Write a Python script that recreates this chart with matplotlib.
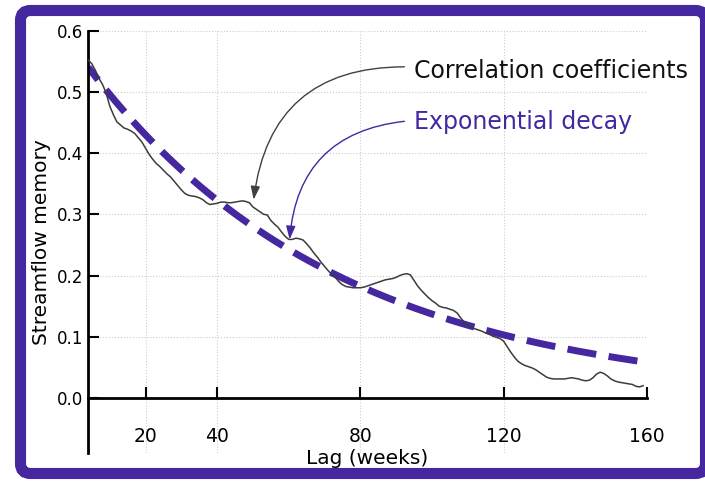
import numpy as np
import matplotlib
matplotlib.use("Agg")
import matplotlib.pyplot as plt
from matplotlib.patches import FancyBboxPatch

# Weekly lags and the lagged streamflow autocorrelation values
lags = np.arange(4, 160)
corr = [
    0.552, 0.546, 0.535, 0.522, 0.512, 0.498, 0.477, 0.463, 0.451, 0.446,   # 4-13
    0.441, 0.439, 0.436, 0.432, 0.425, 0.418, 0.408, 0.398, 0.390, 0.383,   # 14-23
    0.378, 0.372, 0.366, 0.361, 0.354, 0.347, 0.340, 0.334, 0.331, 0.330,   # 24-33
    0.329, 0.327, 0.324, 0.319, 0.316, 0.317, 0.318, 0.320, 0.320, 0.319,   # 34-43
    0.319, 0.320, 0.321, 0.322, 0.321, 0.319, 0.312, 0.308, 0.304, 0.300,   # 44-53
    0.299, 0.290, 0.284, 0.279, 0.271, 0.264, 0.259, 0.259, 0.261, 0.260,   # 54-63
    0.258, 0.252, 0.245, 0.237, 0.230, 0.222, 0.215, 0.208, 0.202, 0.197,   # 64-73
    0.190, 0.185, 0.182, 0.181, 0.180, 0.180, 0.180, 0.181, 0.183, 0.185,   # 74-83
    0.187, 0.189, 0.191, 0.193, 0.194, 0.195, 0.197, 0.200, 0.202, 0.203,   # 84-93
    0.201, 0.192, 0.183, 0.176, 0.170, 0.164, 0.159, 0.155, 0.150, 0.148,   # 94-103
    0.147, 0.145, 0.143, 0.139, 0.131, 0.124, 0.119, 0.116, 0.113, 0.111,   # 104-113
    0.109, 0.106, 0.104, 0.101, 0.099, 0.097, 0.093, 0.084, 0.075, 0.067,   # 114-123
    0.060, 0.056, 0.053, 0.051, 0.049, 0.046, 0.042, 0.038, 0.034, 0.032,   # 124-133
    0.031, 0.031, 0.031, 0.031, 0.032, 0.033, 0.032, 0.031, 0.029, 0.028,   # 134-143
    0.029, 0.033, 0.039, 0.042, 0.040, 0.036, 0.031, 0.028, 0.026, 0.025,   # 144-153
    0.024, 0.023, 0.022, 0.019, 0.018, 0.020,                               # 154-159
]

# Fitted exponential decay: amplitude * exp(-lag / timescale)
decay_amplitude = 0.572
decay_timescale = 70.0   # weeks

x_ticks = [20, 40, 80, 120, 160]
y_ticks = [0.0, 0.1, 0.2, 0.3, 0.4, 0.5, 0.6]
y_tick_labels = ["0.0", "0.1", "0.2", "0.3", "0.4", "0.5", "0.6"]

PURPLE = "#4527a0"
DARK = "#3c3c3c"

fig = plt.figure(figsize=(7.05, 4.83), dpi=100)
fig.patch.set_facecolor("white")

# Rounded purple frame around the whole figure
frame = FancyBboxPatch((0.205, 0.095), 6.85, 4.63,
                       boxstyle="round,pad=0,rounding_size=0.1",
                       transform=fig.dpi_scale_trans,
                       facecolor="white", edgecolor=PURPLE, linewidth=8,
                       zorder=-1)
fig.add_artist(frame)

ax = fig.add_axes([0.1252, 0.0621, 0.7921, 0.8743])
ax.set_facecolor("none")

fit_lags = np.linspace(lags[0], 160, 300)
decay = decay_amplitude * np.exp(-fit_lags / decay_timescale)
ax.plot(fit_lags, decay, color=PURPLE, lw=5, ls=(1.9, (4.2, 1.8)),
        dash_capstyle="butt", zorder=2)
ax.plot(lags, corr, color=DARK, lw=1.1, zorder=3)

ax.set_xlim(4, 160)
ax.set_ylim(-0.09, 0.6)

for side in ("top", "right"):
    ax.spines[side].set_visible(False)
ax.spines["bottom"].set_position(("data", 0))
for side in ("left", "bottom"):
    ax.spines[side].set_linewidth(2)

ax.set_xticks(x_ticks)
ax.set_yticks(y_ticks)
ax.set_yticklabels(y_tick_labels)
ax.tick_params(direction="in", length=8, width=1.5, labelsize=12)
ax.tick_params(axis="x", pad=21, labelsize=13.5)

ax.grid(True, ls=":", color="#cccccc", lw=0.8)
ax.set_axisbelow(True)

ax.set_xlabel("Lag (weeks)", fontsize=14.5, labelpad=2)
ax.set_ylabel("Streamflow memory", fontsize=14.5)

ax.text(95.1, 0.522, "Correlation coefficients", fontsize=17,
        color="#111111", ha="left", va="baseline")
ax.text(95.1, 0.439, "Exponential decay", fontsize=17,
        color=PURPLE, ha="left", va="baseline")

ax.annotate("", xy=(50.2, 0.324), xytext=(92.3, 0.541),
            arrowprops=dict(arrowstyle="-|>,head_length=0.8,head_width=0.28",
                            connectionstyle="arc3,rad=0.44",
                            color="#404040", lw=1.0, shrinkA=0, shrinkB=0,
                            mutation_scale=10))
ax.annotate("", xy=(60.25, 0.259), xytext=(92.3, 0.452),
            arrowprops=dict(arrowstyle="-|>,head_length=0.8,head_width=0.28",
                            connectionstyle="arc3,rad=0.41",
                            color=PURPLE, lw=1.0, shrinkA=0, shrinkB=0,
                            mutation_scale=10))

fig.savefig("out.png", dpi=100, facecolor="white")
